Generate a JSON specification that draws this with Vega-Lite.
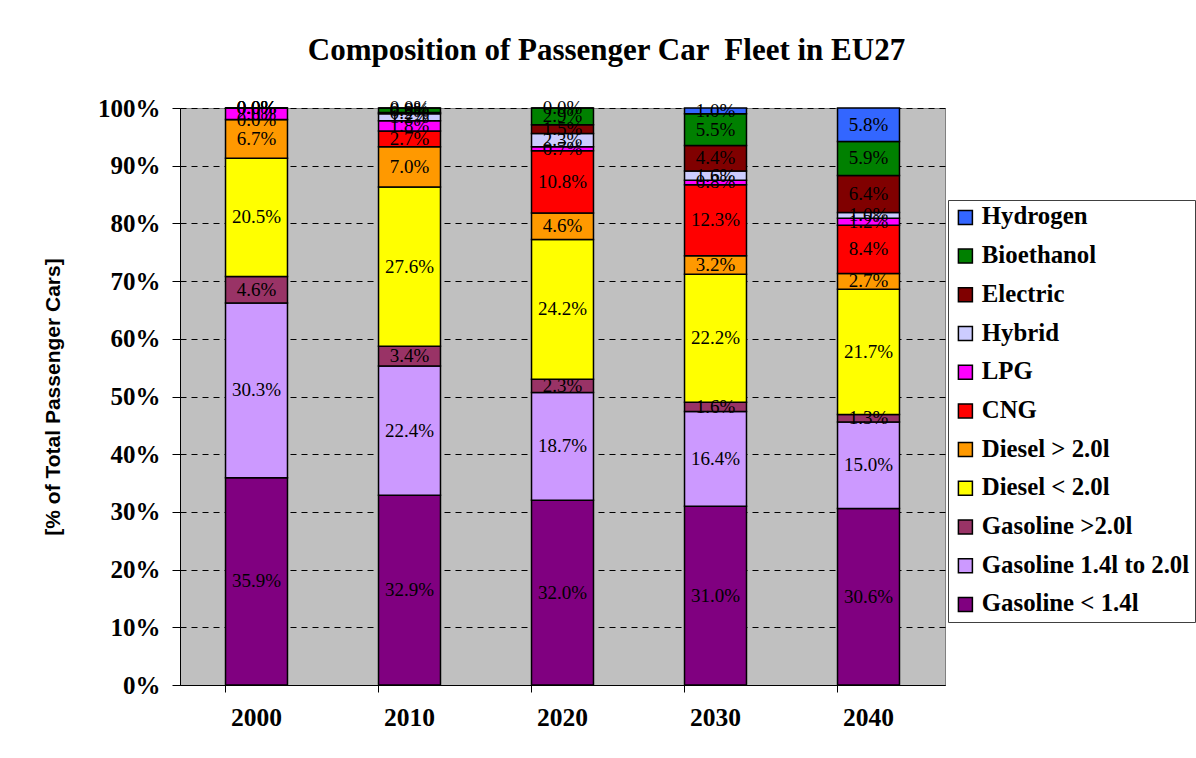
{
  "$schema": "https://vega.github.io/schema/vega-lite/v6.json",
  "autosize": {"type": "none"},
  "padding": {"left": 180, "top": 108, "right": 251, "bottom": 73},
  "width": 765,
  "height": 577,
  "background": "white",
  "title": {
    "text": "Composition of Passenger Car \u00a0Fleet in EU27",
    "font": "Liberation Serif",
    "fontSize": 31,
    "fontWeight": "bold",
    "color": "black",
    "anchor": "middle",
    "dx": 44,
    "offset": 29
  },
  "config": {
    "view": {"fill": "#C0C0C0", "stroke": "#808080", "strokeWidth": 1},
    "axis": {"domainColor": "black", "tickColor": "black", "labelColor": "black", "titleColor": "black"}
  },
  "data": {
    "values": [
      {"year": "2000", "type": "Gasoline < 1.4l", "rank": 1, "share": 0.359},
      {"year": "2000", "type": "Gasoline 1.4l to 2.0l", "rank": 2, "share": 0.303},
      {"year": "2000", "type": "Gasoline >2.0l", "rank": 3, "share": 0.046},
      {"year": "2000", "type": "Diesel < 2.0l", "rank": 4, "share": 0.205},
      {"year": "2000", "type": "Diesel > 2.0l", "rank": 5, "share": 0.067},
      {"year": "2000", "type": "CNG", "rank": 6, "share": 0.0},
      {"year": "2000", "type": "LPG", "rank": 7, "share": 0.020},
      {"year": "2000", "type": "Hybrid", "rank": 8, "share": 0.0},
      {"year": "2000", "type": "Electric", "rank": 9, "share": 0.0},
      {"year": "2000", "type": "Bioethanol", "rank": 10, "share": 0.0},
      {"year": "2000", "type": "Hydrogen", "rank": 11, "share": 0.0},
      {"year": "2010", "type": "Gasoline < 1.4l", "rank": 1, "share": 0.329},
      {"year": "2010", "type": "Gasoline 1.4l to 2.0l", "rank": 2, "share": 0.224},
      {"year": "2010", "type": "Gasoline >2.0l", "rank": 3, "share": 0.034},
      {"year": "2010", "type": "Diesel < 2.0l", "rank": 4, "share": 0.276},
      {"year": "2010", "type": "Diesel > 2.0l", "rank": 5, "share": 0.070},
      {"year": "2010", "type": "CNG", "rank": 6, "share": 0.027},
      {"year": "2010", "type": "LPG", "rank": 7, "share": 0.018},
      {"year": "2010", "type": "Hybrid", "rank": 8, "share": 0.012},
      {"year": "2010", "type": "Electric", "rank": 9, "share": 0.002},
      {"year": "2010", "type": "Bioethanol", "rank": 10, "share": 0.008},
      {"year": "2010", "type": "Hydrogen", "rank": 11, "share": 0.0},
      {"year": "2020", "type": "Gasoline < 1.4l", "rank": 1, "share": 0.320},
      {"year": "2020", "type": "Gasoline 1.4l to 2.0l", "rank": 2, "share": 0.187},
      {"year": "2020", "type": "Gasoline >2.0l", "rank": 3, "share": 0.023},
      {"year": "2020", "type": "Diesel < 2.0l", "rank": 4, "share": 0.242},
      {"year": "2020", "type": "Diesel > 2.0l", "rank": 5, "share": 0.046},
      {"year": "2020", "type": "CNG", "rank": 6, "share": 0.108},
      {"year": "2020", "type": "LPG", "rank": 7, "share": 0.007},
      {"year": "2020", "type": "Hybrid", "rank": 8, "share": 0.023},
      {"year": "2020", "type": "Electric", "rank": 9, "share": 0.015},
      {"year": "2020", "type": "Bioethanol", "rank": 10, "share": 0.029},
      {"year": "2020", "type": "Hydrogen", "rank": 11, "share": 0.0},
      {"year": "2030", "type": "Gasoline < 1.4l", "rank": 1, "share": 0.310},
      {"year": "2030", "type": "Gasoline 1.4l to 2.0l", "rank": 2, "share": 0.164},
      {"year": "2030", "type": "Gasoline >2.0l", "rank": 3, "share": 0.016},
      {"year": "2030", "type": "Diesel < 2.0l", "rank": 4, "share": 0.222},
      {"year": "2030", "type": "Diesel > 2.0l", "rank": 5, "share": 0.032},
      {"year": "2030", "type": "CNG", "rank": 6, "share": 0.123},
      {"year": "2030", "type": "LPG", "rank": 7, "share": 0.008},
      {"year": "2030", "type": "Hybrid", "rank": 8, "share": 0.016},
      {"year": "2030", "type": "Electric", "rank": 9, "share": 0.044},
      {"year": "2030", "type": "Bioethanol", "rank": 10, "share": 0.055},
      {"year": "2030", "type": "Hydrogen", "rank": 11, "share": 0.010},
      {"year": "2040", "type": "Gasoline < 1.4l", "rank": 1, "share": 0.306},
      {"year": "2040", "type": "Gasoline 1.4l to 2.0l", "rank": 2, "share": 0.150},
      {"year": "2040", "type": "Gasoline >2.0l", "rank": 3, "share": 0.013},
      {"year": "2040", "type": "Diesel < 2.0l", "rank": 4, "share": 0.217},
      {"year": "2040", "type": "Diesel > 2.0l", "rank": 5, "share": 0.027},
      {"year": "2040", "type": "CNG", "rank": 6, "share": 0.084},
      {"year": "2040", "type": "LPG", "rank": 7, "share": 0.012},
      {"year": "2040", "type": "Hybrid", "rank": 8, "share": 0.010},
      {"year": "2040", "type": "Electric", "rank": 9, "share": 0.064},
      {"year": "2040", "type": "Bioethanol", "rank": 10, "share": 0.059},
      {"year": "2040", "type": "Hydrogen", "rank": 11, "share": 0.058}
    ]
  },
  "encoding": {
    "x": {
      "field": "year",
      "type": "nominal",
      "scale": {"paddingInner": 0.595, "paddingOuter": 0.2975},
      "axis": {
        "title": null,
        "labelAngle": 0,
        "labelFont": "Liberation Serif",
        "labelFontSize": 25.5,
        "labelFontWeight": "bold",
        "labelPadding": 13,
        "tickSize": 7,
        "bandPosition": 0,
        "domainWidth": 1,
        "grid": false
      }
    }
  },
  "layer": [
    {
      "mark": {"type": "bar", "stroke": "black", "strokeWidth": 1.5},
      "encoding": {
        "y": {
          "field": "share",
          "type": "quantitative",
          "stack": "zero",
          "scale": {"domain": [0, 1], "nice": false},
          "axis": {
            "title": "[% of Total Passenger Cars]",
            "titleFont": "Liberation Sans",
            "titleFontSize": 21,
            "titleFontWeight": "bold",
            "titlePadding": 34,
            "values": [0, 0.1, 0.2, 0.3, 0.4, 0.5, 0.6, 0.7, 0.8, 0.9, 1],
            "format": ".0%",
            "labelFont": "Liberation Serif",
            "labelFontSize": 25,
            "labelFontWeight": "bold",
            "labelPadding": 12,
            "tickSize": 8,
            "grid": true,
            "gridColor": "black",
            "gridDash": [6, 5],
            "gridWidth": 1
          }
        },
        "color": {
          "field": "type",
          "type": "nominal",
          "scale": {
            "domain": ["Hydrogen", "Bioethanol", "Electric", "Hybrid", "LPG", "CNG", "Diesel > 2.0l", "Diesel < 2.0l", "Gasoline >2.0l", "Gasoline 1.4l to 2.0l", "Gasoline < 1.4l"],
            "range": ["#3366FF", "#008000", "#800000", "#CCCCFF", "#FF00FF", "#FF0000", "#FF9900", "#FFFF00", "#993366", "#CC99FF", "#800080"]
          },
          "legend": {
            "title": null,
            "orient": "none",
            "legendX": 768,
            "legendY": 92,
            "direction": "vertical",
            "fillColor": "white",
            "strokeColor": "#404040",
            "padding": 5,
            "symbolType": "square",
            "symbolSize": 196,
            "symbolStrokeColor": "black",
            "symbolStrokeWidth": 1.5,
            "symbolOpacity": 1,
            "labelFont": "Liberation Serif",
            "labelFontSize": 24.8,
            "labelFontWeight": "bold",
            "labelColor": "black",
            "labelOffset": 4,
            "labelLimit": 300,
            "rowPadding": 12.7
          }
        },
        "order": {"field": "rank", "type": "quantitative", "sort": "ascending"}
      }
    },
    {
      "mark": {"type": "text", "font": "Liberation Serif", "fontSize": 19, "color": "black", "baseline": "middle"},
      "encoding": {
        "y": {"field": "share", "type": "quantitative", "stack": "zero", "bandPosition": 0.5},
        "detail": {"field": "type", "type": "nominal"},
        "order": {"field": "rank", "type": "quantitative", "sort": "ascending"},
        "text": {"field": "share", "type": "quantitative", "format": ".1%"}
      }
    }
  ]
}
